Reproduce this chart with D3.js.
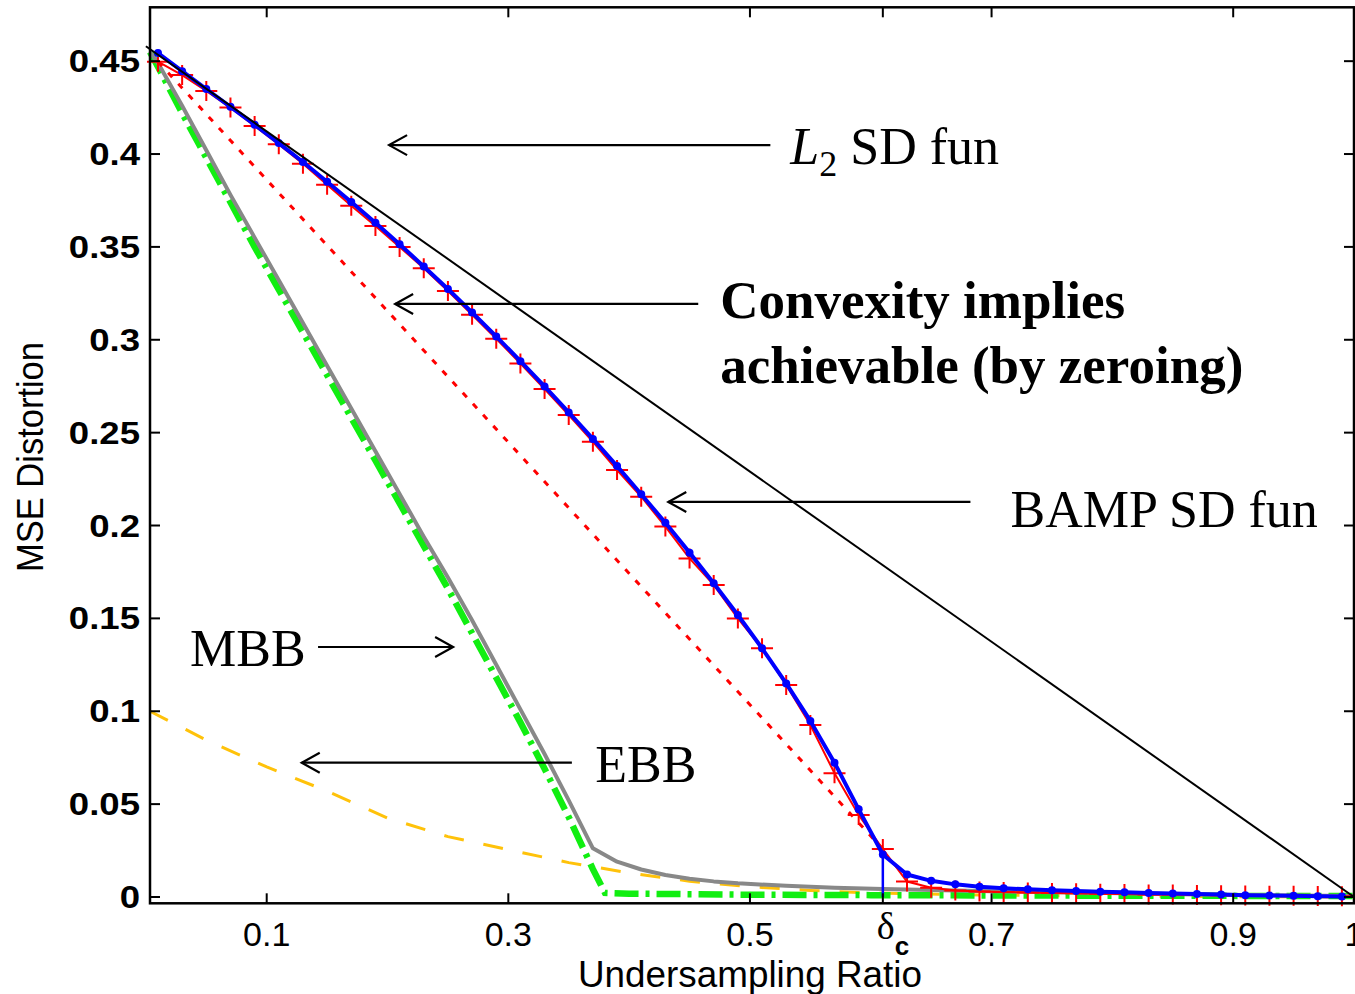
<!DOCTYPE html>
<html>
<head>
<meta charset="utf-8">
<script src="https://cdn.jsdelivr.net/npm/d3@7/dist/d3.min.js"></script>
<style>
  html, body { margin: 0; padding: 0; background: #fff; }
  svg { display: block; }
</style>
</head>
<body>
<svg id="chart" width="1355" height="994"></svg>
<script>
// ---- axis ticks ----
const xTicks = [0.1, 0.3, 0.5, 0.7, 0.9, 1];
const xTickLabels = ["0.1", "0.3", "0.5", "0.7", "0.9", "1"];
const yTicks = [0, 0.05, 0.1, 0.15, 0.2, 0.25, 0.3, 0.35, 0.4, 0.45];
const yTickLabels = ["0", "0.05", "0.1", "0.15", "0.2", "0.25", "0.3", "0.35", "0.4", "0.45"];
const deltaC = 0.61;

// ---- sampling grid shared by BAMP curves ----
const gridX = [0.01, 0.03, 0.05, 0.07, 0.09, 0.11, 0.13, 0.15, 0.17, 0.19,
               0.21, 0.23, 0.25, 0.27, 0.29, 0.31, 0.33, 0.35, 0.37, 0.39,
               0.41, 0.43, 0.45, 0.47, 0.49, 0.51, 0.53, 0.55, 0.57, 0.59,
               0.61, 0.63, 0.65, 0.67, 0.69, 0.71, 0.73, 0.75, 0.77, 0.79,
               0.81, 0.83, 0.85, 0.87, 0.89, 0.91, 0.93, 0.95, 0.97, 0.99];

// BAMP SD function (blue, dots)
const bampY = [0.4544, 0.4446, 0.4350, 0.4254, 0.4158, 0.4059, 0.3957, 0.3851, 0.3742, 0.3630,
               0.3514, 0.3395, 0.3273, 0.3147, 0.3018, 0.2885, 0.2749, 0.2609, 0.2466, 0.2320,
               0.2168, 0.2015, 0.1854, 0.1689, 0.1518, 0.1339, 0.1150, 0.0948, 0.0723, 0.0472,
               0.0229, 0.0121, 0.0087, 0.0068, 0.0055, 0.0047, 0.0041, 0.0036, 0.0032, 0.0028,
               0.0025, 0.0022, 0.0019, 0.0016, 0.0013, 0.0010, 0.0008, 0.0006, 0.0004, 0.0002];

// simulated BAMP distortion (red, plus markers)
const simY  = [0.4497, 0.4425, 0.4340, 0.4250, 0.4151, 0.4052, 0.3948, 0.3835, 0.3722, 0.3612,
               0.3500, 0.3385, 0.3262, 0.3135, 0.3005, 0.2872, 0.2735, 0.2595, 0.2451, 0.2299,
               0.2155, 0.1994, 0.1823, 0.1680, 0.1500, 0.1339, 0.1141, 0.0926, 0.0666, 0.0441,
               0.0258, 0.0083, 0.0050, 0.0035, 0.0030, 0.0027, 0.0024, 0.0022, 0.0020, 0.0018,
               0.0016, 0.0014, 0.0013, 0.0011, 0.0010, 0.0008, 0.0007, 0.0006, 0.0005, 0.0004];

// L2 SD function (black straight line)
const l2X = [0, 1];
const l2Y = [0.458, 0];

// convex-hull chord achievable by zeroing (red dotted)
const hullX = [0.01, 0.61];
const hullY = [0.4497, 0.0258];

// MBB (gray)
const mbbX = [0.0034, 0.01, 0.03, 0.05, 0.07, 0.09, 0.11, 0.13, 0.15, 0.17, 0.19, 0.21, 0.23,
              0.25, 0.27, 0.29, 0.31, 0.33, 0.35, 0.37, 0.39, 0.41, 0.43, 0.45, 0.47, 0.49,
              0.53, 0.57, 0.61, 0.65, 0.69, 0.75, 0.81, 0.87, 0.93, 1.0];
const mbbY = [0.455, 0.449, 0.426, 0.402, 0.378, 0.355, 0.332, 0.309, 0.286, 0.263, 0.240, 0.217, 0.194,
              0.172, 0.149, 0.125, 0.101, 0.077, 0.052, 0.0262, 0.0190, 0.0148, 0.0118, 0.0098, 0.0084, 0.0074,
              0.0060, 0.0050, 0.0043, 0.0037, 0.0032, 0.0026, 0.0020, 0.0014, 0.0009, 0.0005];

// bound (green dash-dot)
const gbX = [0.0034, 0.01, 0.03, 0.05, 0.07, 0.09, 0.11, 0.13, 0.15, 0.17, 0.19, 0.21, 0.23,
             0.25, 0.27, 0.29, 0.31, 0.33, 0.35, 0.37, 0.38, 0.40, 0.5, 0.6, 0.7, 0.8, 0.9, 1.0];
const gbY = [0.455, 0.447, 0.422, 0.398, 0.374, 0.350, 0.327, 0.304, 0.281, 0.258, 0.235, 0.212, 0.189,
             0.166, 0.142, 0.118, 0.094, 0.069, 0.043, 0.015, 0.0022, 0.0018, 0.0012, 0.0010, 0.0008, 0.0007, 0.0006, 0.0005];

// EBB (orange dashed)
const ebbX = [0.0034, 0.05, 0.1, 0.15, 0.2, 0.25, 0.3, 0.35, 0.4, 0.45, 0.5, 0.55, 0.6, 0.7, 0.8, 0.9, 1.0];
const ebbY = [0.100, 0.0845, 0.070, 0.057, 0.0425, 0.0325, 0.0255, 0.0185, 0.0130, 0.0085, 0.0055, 0.0035, 0.0022, 0.0010, 0.0005, 0.0002, 0.0];

// ---- layout ----
const svg = d3.select("#chart");
const x = d3.scaleLinear().domain([0.0034, 1]).range([150, 1354]);
const y = d3.scaleLinear().domain([-0.0034, 0.479]).range([903.3, 7.3]);

const pts = (xs, ys) => xs.map((v, i) => [v, ys[i]]);
const line = d3.line().x(d => x(d[0])).y(d => y(d[1]));

const plot = svg.append("g");

// EBB
plot.append("path").datum(pts(ebbX, ebbY)).attr("d", line)
  .attr("fill", "none").attr("stroke", "#ffc20a").attr("stroke-width", 3)
  .attr("stroke-dasharray", "20,20");

// green bound
plot.append("path").datum(pts(gbX, gbY)).attr("d", line)
  .attr("fill", "none").attr("stroke", "#11ee11").attr("stroke-width", 6.5)
  .attr("stroke-dasharray", "24,7,4,7");

// MBB
plot.append("path").datum(pts(mbbX, mbbY)).attr("d", line)
  .attr("fill", "none").attr("stroke", "#888888").attr("stroke-width", 4)
  .attr("stroke-linejoin", "round");

// convex hull chord
plot.append("path").datum(pts(hullX, hullY)).attr("d", line)
  .attr("fill", "none").attr("stroke", "#ff0000").attr("stroke-width", 3)
  .attr("stroke-dasharray", "6,9");

// simulated curve with plus markers
const sim = pts(gridX, simY);
plot.append("path").datum(sim).attr("d", line)
  .attr("fill", "none").attr("stroke", "#ff0000").attr("stroke-width", 2);
plot.append("g").selectAll("path").data(sim).join("path")
  .attr("transform", d => `translate(${x(d[0])},${y(d[1])})`)
  .attr("d", "M-11,0H11M0,-10V10")
  .attr("stroke", "#ff0000").attr("stroke-width", 2).attr("fill", "none");

// BAMP SD function
const bamp = pts(gridX, bampY);
plot.append("path").datum(bamp).attr("d", line)
  .attr("fill", "none").attr("stroke", "#0000ff").attr("stroke-width", 4)
  .attr("stroke-linejoin", "round");
plot.append("g").selectAll("circle").data(bamp).join("circle")
  .attr("cx", d => x(d[0])).attr("cy", d => y(d[1])).attr("r", 4)
  .attr("fill", "#0000ff");
// critical ratio marker
const bampAtC = bampY[gridX.indexOf(deltaC)];
plot.append("path").datum([[deltaC, bampAtC], [deltaC, 0]]).attr("d", line)
  .attr("stroke", "#0000ff").attr("stroke-width", 2.5).attr("fill", "none");

// L2 SD function
plot.append("path").datum(pts(l2X, l2Y)).attr("d", line)
  .attr("fill", "none").attr("stroke", "#000").attr("stroke-width", 2);

// ---- axes frame and ticks ----
const frame = svg.append("g");
const [x0, x1] = x.range(), [y0, y1] = y.range();
frame.append("rect").attr("x", x0).attr("y", y1).attr("width", x1 - x0).attr("height", y0 - y1)
  .attr("fill", "none").attr("stroke", "#000").attr("stroke-width", 2.5);

const tickLen = 10;
const allX = xTicks.concat([deltaC]);
allX.forEach(t => {
  frame.append("line").attr("x1", x(t)).attr("x2", x(t)).attr("y1", y0).attr("y2", y0 - tickLen)
    .attr("stroke", "#000").attr("stroke-width", 2);
  frame.append("line").attr("x1", x(t)).attr("x2", x(t)).attr("y1", y1).attr("y2", y1 + tickLen)
    .attr("stroke", "#000").attr("stroke-width", 2);
});
yTicks.forEach(t => {
  frame.append("line").attr("x1", x0).attr("x2", x0 + tickLen).attr("y1", y(t)).attr("y2", y(t))
    .attr("stroke", "#000").attr("stroke-width", 2);
  frame.append("line").attr("x1", x1).attr("x2", x1 - tickLen).attr("y1", y(t)).attr("y2", y(t))
    .attr("stroke", "#000").attr("stroke-width", 2);
});

// x tick labels
xTicks.forEach((t, i) => {
  svg.append("text").attr("x", x(t)).attr("y", 946)
    .attr("text-anchor", "middle")
    .style("font-family", "'Liberation Sans', Arial, sans-serif").style("font-size", "34px")
    .text(xTickLabels[i]);
});
// delta_c label
const dl = svg.append("text").attr("x", x(deltaC) - 6).attr("y", 939)
  .style("font-family", "'Liberation Serif', 'Times New Roman', serif").style("font-size", "38px");
dl.append("tspan").text("δ");
dl.append("tspan").attr("dy", 16).style("font-family", "'Liberation Sans', Arial, sans-serif")
  .style("font-size", "26px").style("font-weight", "bold").text("c");

// y tick labels (wide bold)
yTicks.forEach((t, i) => {
  svg.append("g").attr("transform", `translate(140,${y(t) + 11}) scale(1.18,1)`)
    .append("text").attr("text-anchor", "end")
    .style("font-family", "'Liberation Sans', Arial, sans-serif").style("font-size", "31px")
    .style("font-weight", "bold")
    .text(yTickLabels[i]);
});

// axis titles
svg.append("text").attr("x", 750).attr("y", 987).attr("text-anchor", "middle")
  .attr("textLength", 344).attr("lengthAdjust", "spacingAndGlyphs")
  .style("font-family", "'Liberation Sans', Arial, sans-serif").style("font-size", "36px")
  .text("Undersampling Ratio");
svg.append("text").attr("transform", "translate(43,457) rotate(-90)").attr("text-anchor", "middle")
  .attr("textLength", 230).attr("lengthAdjust", "spacingAndGlyphs")
  .style("font-family", "'Liberation Sans', Arial, sans-serif").style("font-size", "36px")
  .text("MSE Distortion");

// ---- annotations (data coordinates) ----
const notes = svg.append("g");
function arrow(xTail, xTip, yv) {
  const dir = xTip < xTail ? 1 : -1;
  const tx = x(xTip), ty = y(yv);
  notes.append("line").attr("x1", x(xTail)).attr("x2", tx).attr("y1", ty).attr("y2", ty)
    .attr("stroke", "#000").attr("stroke-width", 2.2);
  notes.append("path")
    .attr("d", `M${tx + dir * 18},${ty - 10}L${tx},${ty}L${tx + dir * 18},${ty + 10}`)
    .attr("fill", "none").attr("stroke", "#000").attr("stroke-width", 2.2);
}
function label(xv, yv, txt, bold) {
  return notes.append("text").attr("x", x(xv)).attr("y", y(yv))
    .style("font-family", "'Liberation Serif', 'Times New Roman', serif")
    .style("font-size", bold ? "53px" : "52px")
    .style("font-weight", bold ? "bold" : "normal").text(txt);
}

arrow(0.5169, 0.2013, 0.4048);
const l2 = notes.append("text").attr("x", x(0.5334)).attr("y", y(0.3946))
  .style("font-family", "'Liberation Serif', 'Times New Roman', serif").style("font-size", "52px");
l2.append("tspan").style("font-style", "italic").text("L");
l2.append("tspan").attr("dy", 12).style("font-size", "36px").text("2");
l2.append("tspan").attr("dy", -12).text(" SD fun");

arrow(0.4572, 0.2063, 0.3193);
label(0.4754, 0.3117, "Convexity implies", true);
label(0.4754, 0.2767, "achievable (by zeroing)", true);

arrow(0.6825, 0.4324, 0.2127);
label(0.7157, 0.1992, "BAMP SD fun", false);

arrow(0.1425, 0.2543, 0.1346);
label(0.0365, 0.1244, "MBB", false);

arrow(0.3526, 0.129, 0.0723);
label(0.3719, 0.0619, "EBB", false);
</script>
</body>
</html>
